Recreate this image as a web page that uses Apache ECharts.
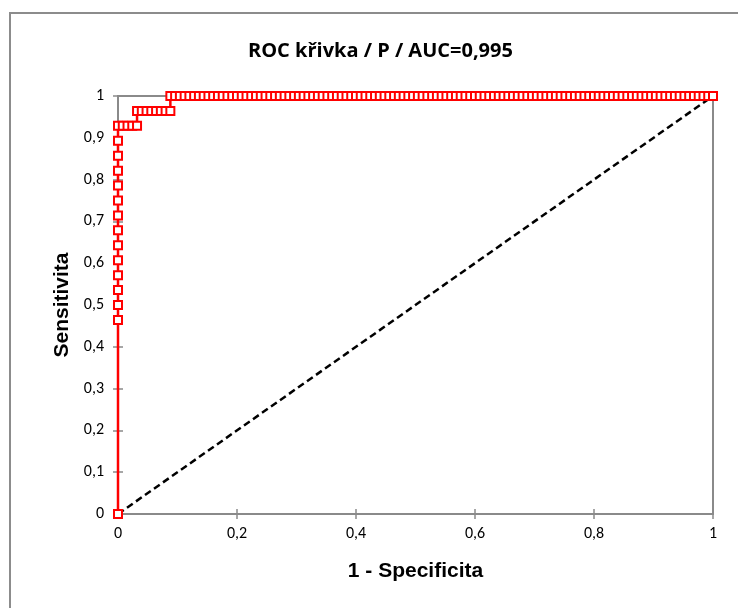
<!DOCTYPE html>
<html>
<head>
<meta charset="utf-8">
<script src="https://cdn.jsdelivr.net/npm/echarts@6/dist/echarts.min.js"></script>
<style>
  html, body { margin: 0; padding: 0; background: #fff; }
  #chart { width: 738px; height: 608px; }
</style>
</head>
<body>
<div id="chart"></div>
<script>
// ROC curve: counts of false positives / true positives at each threshold
const totalNegatives = 125;
const totalPositives = 28;

const falsePositives = [
  0, 0, 0, 0, 0, 0, 0, 0, 0, 0, 0, 0, 0, 0, 0,
  1, 2, 3, 4,
  4, 5, 6, 7, 8, 9, 10, 11,
  11, 12, 13, 14, 15, 16, 17, 18, 19, 20,
  21, 22, 23, 24, 25, 26, 27, 28, 29, 30,
  31, 32, 33, 34, 35, 36, 37, 38, 39, 40,
  41, 42, 43, 44, 45, 46, 47, 48, 49, 50,
  51, 52, 53, 54, 55, 56, 57, 58, 59, 60,
  61, 62, 63, 64, 65, 66, 67, 68, 69, 70,
  71, 72, 73, 74, 75, 76, 77, 78, 79, 80,
  81, 82, 83, 84, 85, 86, 87, 88, 89, 90,
  91, 92, 93, 94, 95, 96, 97, 98, 99, 100,
  101, 102, 103, 104, 105, 106, 107, 108, 109, 110,
  111, 112, 113, 114, 115, 116, 117, 118, 119, 120,
  121, 122, 123, 124, 125
];
const truePositives = [
  0, 13, 14, 15, 16, 17, 18, 19, 20, 21, 22, 23, 24, 25, 26,
  26, 26, 26, 26,
  27, 27, 27, 27, 27, 27, 27, 27,
  28, 28, 28, 28, 28, 28, 28, 28, 28, 28,
  28, 28, 28, 28, 28, 28, 28, 28, 28, 28,
  28, 28, 28, 28, 28, 28, 28, 28, 28, 28,
  28, 28, 28, 28, 28, 28, 28, 28, 28, 28,
  28, 28, 28, 28, 28, 28, 28, 28, 28, 28,
  28, 28, 28, 28, 28, 28, 28, 28, 28, 28,
  28, 28, 28, 28, 28, 28, 28, 28, 28, 28,
  28, 28, 28, 28, 28, 28, 28, 28, 28, 28,
  28, 28, 28, 28, 28, 28, 28, 28, 28, 28,
  28, 28, 28, 28, 28, 28, 28, 28, 28, 28,
  28, 28, 28, 28, 28, 28, 28, 28, 28, 28,
  28, 28, 28, 28, 28
];

// Reference diagonal (random classifier)
const diagonalX = [0, 1];
const diagonalY = [0, 1];

const chartTitle = 'ROC křivka / P / AUC=0,995';
const xAxisTitle = '1 - Specificita';
const yAxisTitle = 'Sensitivita';

const rocPoints = falsePositives.map((fp, i) => [fp / totalNegatives, truePositives[i] / totalPositives]);
const diagonalPoints = diagonalX.map((x, i) => [x, diagonalY[i]]);

const fmt = v => String(Math.round(v * 10) / 10).replace('.', ',');
const axisGray = '#8a8a8a';
const labelFont = 'Carlito, Lato, "Liberation Sans", sans-serif';
const headFont = '"Open Sans", Lato, sans-serif';
const titleFont = '"Liberation Sans", Arial, sans-serif';

const chart = echarts.init(document.getElementById('chart'), null, { renderer: 'canvas' });

const baseX = {
  type: 'value', min: 0, max: 1, interval: 0.2,
  splitLine: { show: false },
  axisLine: { show: true, lineStyle: { color: axisGray, width: 2 } }
};
const baseY = {
  type: 'value', min: 0, max: 1, interval: 0.1,
  splitLine: { show: false },
  axisLine: { show: true, lineStyle: { color: axisGray, width: 2 } }
};

chart.setOption({
  animation: false,
  backgroundColor: '#ffffff',
  graphic: [{
    type: 'rect',
    shape: { x: 10, y: 13, width: 800, height: 700 },
    style: { fill: 'none', stroke: '#8c8c8c', lineWidth: 2 },
    z: -1
  }],
  title: {
    text: chartTitle,
    left: 243,
    top: 36,
    textStyle: { fontFamily: headFont, fontWeight: 'bold', fontSize: 20, color: '#000' }
  },
  grid: {
    left: 118, top: 96, width: 595, height: 418,
    show: true, borderColor: axisGray, borderWidth: 2, backgroundColor: 'transparent'
  },
  xAxis: [
    Object.assign({}, baseX, {
      name: xAxisTitle,
      nameLocation: 'middle',
      nameGap: 47,
      nameTextStyle: { fontFamily: titleFont, fontWeight: 'bold', fontSize: 21, color: '#000' },
      axisTick: { show: true, inside: false, length: 5, lineStyle: { color: axisGray, width: 1.5 } },
      axisLabel: { formatter: fmt, margin: 12, fontFamily: labelFont, fontSize: 16, color: '#000' }
    }),
    Object.assign({}, baseX, {
      position: 'bottom',
      axisTick: { show: true, inside: true, length: 5, lineStyle: { color: axisGray, width: 1.5 } },
      axisLabel: { show: false }
    })
  ],
  yAxis: [
    Object.assign({}, baseY, {
      name: yAxisTitle,
      nameLocation: 'middle',
      nameGap: 44,
      nameRotate: 90,
      nameTextStyle: { fontFamily: titleFont, fontWeight: 'bold', fontSize: 21, color: '#000' },
      axisTick: { show: true, inside: false, length: 5, lineStyle: { color: axisGray, width: 1.5 } },
      axisLabel: { formatter: fmt, margin: 14, fontFamily: labelFont, fontSize: 16, color: '#000' }
    }),
    Object.assign({}, baseY, {
      position: 'left',
      axisTick: { show: true, inside: true, length: 5, lineStyle: { color: axisGray, width: 1.5 } },
      axisLabel: { show: false }
    })
  ],
  series: [
    {
      type: 'line',
      data: diagonalPoints,
      symbol: 'none',
      lineStyle: { color: '#000', width: 2.5, type: [7, 4] },
      z: 2
    },
    {
      type: 'line',
      data: rocPoints,
      symbol: 'rect',
      symbolSize: 8,
      showAllSymbol: true,
      lineStyle: { color: '#ff0000', width: 2.5 },
      itemStyle: { color: '#ffffff', borderColor: '#ff0000', borderWidth: 2 },
      z: 3
    }
  ]
});
</script>
</body>
</html>
